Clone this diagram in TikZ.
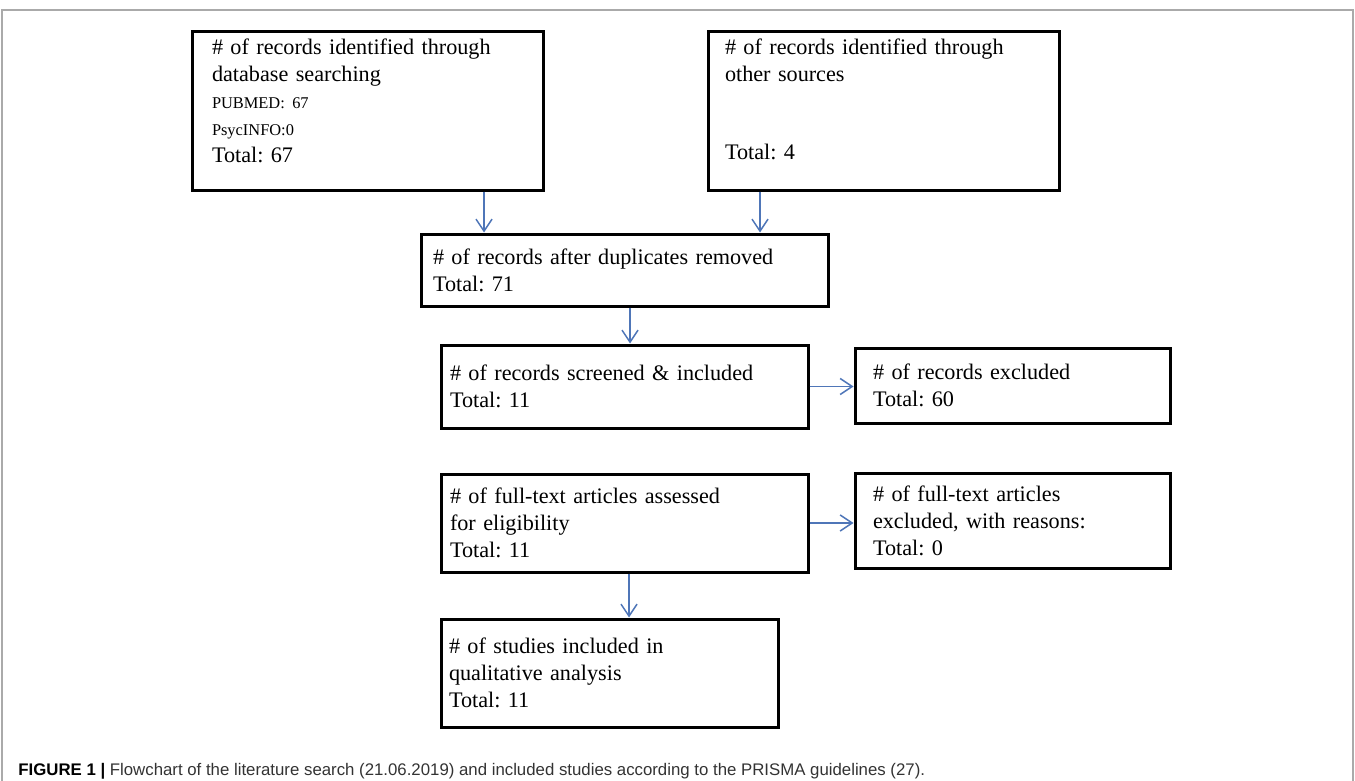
\documentclass[tikz,border=0pt]{standalone}
\usepackage{fontspec}
\setmainfont{Liberation Serif}
\newfontfamily\capfont{Liberation Sans}
\usetikzlibrary{arrows.meta}
\definecolor{arrowblue}{RGB}{79,118,184}
\definecolor{framegray}{RGB}{170,170,170}
\frenchspacing
\begin{document}
\begin{tikzpicture}[x=0.5pt,y=-0.5pt]
        \tikzstyle{box}=[draw, line width=1.5pt, rectangle, inner xsep=0pt, inner ysep=2pt, align=left, font=\fontsize{11.1}{13.5}\selectfont]
        \tikzstyle{arr}=[draw=arrowblue, line width=0.75pt, -{Straight Barb[length=6pt,width=8pt]}]
        \useasboundingbox (0,0) rectangle (1355,781);
        \draw[framegray, line width=1pt] (2,781) -- (2,10) -- (1353,10) -- (1353,781);
        \node[box, minimum width=175.5pt, minimum height=79pt, text width=155.5pt] (db) at (367.5,111) {\# of records identified through\\database searching\\{\fontsize{8.2}{13.5}\selectfont PUBMED: 67}\\{\fontsize{8.2}{13.5}\selectfont PsycINFO:0}\\Total: 67\rule[-10pt]{0pt}{0pt}};
        \node[box, minimum width=175.5pt, minimum height=79pt, text width=158.5pt] (other) at (883.5,111) {\# of records identified through\\other sources\\[25.5pt]Total: 4\rule[-11.5pt]{0pt}{0pt}};
        \node[box, minimum width=203.5pt, minimum height=36pt, text width=191.5pt] (dup) at (624.5,270) {\# of records after duplicates removed\\Total: 71};
        \node[box, minimum width=183.5pt, minimum height=41.5pt, text width=174.5pt] (screen) at (624.5,386.5) {\# of records screened \& included\\Total: 11};
        \node[box, minimum width=157.5pt, minimum height=37.5pt, text width=139.5pt] (excl) at (1012.5,385.5) {\# of records excluded\\Total: 60};
        \node[box, minimum width=183.5pt, minimum height=49pt, text width=174.5pt] (full) at (624.5,523) {\# of full-text articles assessed\\for eligibility\\Total: 11};
        \node[box, minimum width=157.5pt, minimum height=47.5pt, text width=139.5pt] (fullexcl) at (1012.5,520.5) {\# of full-text articles\\excluded, with reasons:\\Total: 0};
        \node[box, minimum width=168.5pt, minimum height=54pt, text width=160.5pt] (incl) at (609.5,673) {\# of studies included in\\qualitative analysis\\Total: 11};
        \draw[arr] ([xshift=58.25pt]db.south) -- ([xshift=58.25pt]db.south |- dup.north);
        \draw[arr] ([xshift=-61.75pt]other.south) -- ([xshift=-61.75pt]other.south |- dup.north);
        \draw[arr] ([xshift=2.75pt]dup.south) -- ([xshift=2.75pt]dup.south |- screen.north);
        \draw[arr] (screen.east) -- (screen.east -| excl.west);
        \draw[arr] ([xshift=2.25pt]full.south) -- ([xshift=2.25pt]full.south |- incl.north);
        \draw[arr] (full.east) -- (full.east -| fullexcl.west);
        \node[anchor=base west, inner sep=0pt, font=\capfont\fontsize{8.4}{10}\selectfont, text=black!80] (cap) at (18,775) {{\bfseries\color{black}FIGURE 1 |} Flowchart of the literature search (21.06.2019) and included studies according to the PRISMA guidelines (27).};
\end{tikzpicture}
\end{document}
